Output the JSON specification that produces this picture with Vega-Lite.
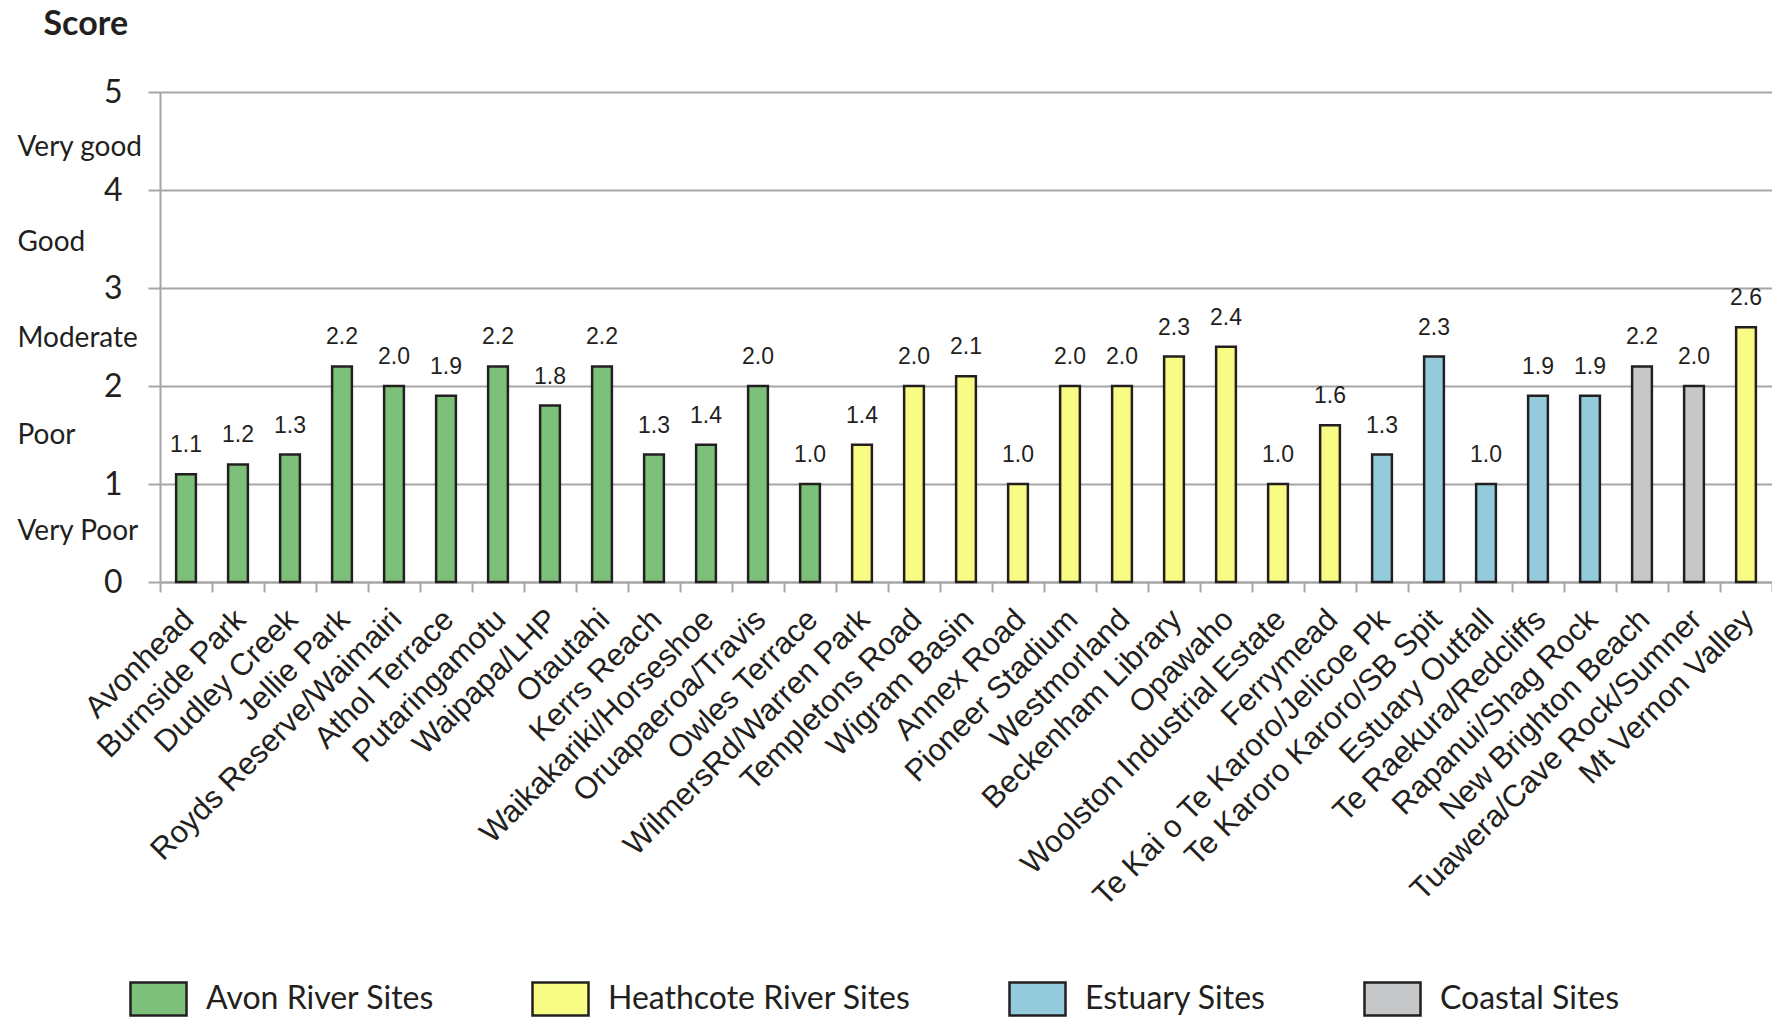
{
  "$schema": "https://vega.github.io/schema/vega-lite/v6.json",
  "width": 1612,
  "height": 490,
  "autosize": {"type": "none"},
  "padding": {"left": 160, "top": 92, "right": 0, "bottom": 435},
  "background": "white",
  "config": {"view": {"stroke": null}},
  "data": {
    "values": [
      {"site": "Avonhead", "score": 1.1, "group": "Avon River Sites"},
      {"site": "Burnside Park", "score": 1.2, "group": "Avon River Sites"},
      {"site": "Dudley Creek", "score": 1.3, "group": "Avon River Sites"},
      {"site": "Jellie Park", "score": 2.2, "group": "Avon River Sites"},
      {"site": "Royds Reserve/Waimairi", "score": 2.0, "group": "Avon River Sites"},
      {"site": "Athol Terrace", "score": 1.9, "group": "Avon River Sites"},
      {"site": "Putaringamotu", "score": 2.2, "group": "Avon River Sites"},
      {"site": "Waipapa/LHP", "score": 1.8, "group": "Avon River Sites"},
      {"site": "Otautahi", "score": 2.2, "group": "Avon River Sites"},
      {"site": "Kerrs Reach", "score": 1.3, "group": "Avon River Sites"},
      {"site": "Waikakariki/Horseshoe", "score": 1.4, "group": "Avon River Sites"},
      {"site": "Oruapaeroa/Travis", "score": 2.0, "group": "Avon River Sites"},
      {"site": "Owles Terrace", "score": 1.0, "group": "Avon River Sites"},
      {"site": "WilmersRd/Warren Park", "score": 1.4, "group": "Heathcote River Sites"},
      {"site": "Templetons Road", "score": 2.0, "group": "Heathcote River Sites"},
      {"site": "Wigram Basin", "score": 2.1, "group": "Heathcote River Sites"},
      {"site": "Annex Road", "score": 1.0, "group": "Heathcote River Sites"},
      {"site": "Pioneer Stadium", "score": 2.0, "group": "Heathcote River Sites"},
      {"site": "Westmorland", "score": 2.0, "group": "Heathcote River Sites"},
      {"site": "Beckenham Library", "score": 2.3, "group": "Heathcote River Sites"},
      {"site": "Opawaho", "score": 2.4, "group": "Heathcote River Sites"},
      {"site": "Woolston Industrial Estate", "score": 1.0, "group": "Heathcote River Sites"},
      {"site": "Ferrymead", "score": 1.6, "group": "Heathcote River Sites"},
      {"site": "Te Kai o Te Karoro/Jelicoe Pk", "score": 1.3, "group": "Estuary Sites"},
      {"site": "Te Karoro Karoro/SB Spit", "score": 2.3, "group": "Estuary Sites"},
      {"site": "Estuary Outfall", "score": 1.0, "group": "Estuary Sites"},
      {"site": "Te Raekura/Redcliffs", "score": 1.9, "group": "Estuary Sites"},
      {"site": "Rapanui/Shag Rock", "score": 1.9, "group": "Estuary Sites"},
      {"site": "New Brighton Beach", "score": 2.2, "group": "Coastal Sites"},
      {"site": "Tuawera/Cave Rock/Sumner", "score": 2.0, "group": "Coastal Sites"},
      {"site": "Mt Vernon Valley", "score": 2.6, "group": "Heathcote River Sites"}
    ]
  },
  "encoding": {
    "x": {
      "field": "site",
      "type": "nominal",
      "sort": null,
      "scale": {"paddingInner": 0, "paddingOuter": 0},
      "axis": {
        "title": null,
        "labelAngle": -45,
        "labelAlign": "right",
        "labelBaseline": "top",
        "labelFont": "Liberation Sans",
        "labelFontSize": 31,
        "labelColor": "#231f20",
        "labelPadding": 12,
        "labelOffset": -8,
        "labelLimit": 1000,
        "labelOverlap": false,
        "labelBound": false,
        "tickBand": "extent",
        "tickSize": 10,
        "tickColor": "#a6a6a6",
        "tickWidth": 2,
        "domainColor": "#a6a6a6",
        "domainWidth": 2,
        "grid": false
      }
    },
    "y": {
      "field": "score",
      "type": "quantitative",
      "scale": {"domain": [0, 5], "nice": false},
      "axis": {
        "title": "Score",
        "titleAngle": 0,
        "titleAlign": "left",
        "titleBaseline": "alphabetic",
        "titleX": -117,
        "titleY": -58,
        "titleFont": "Lato",
        "titleFontWeight": "bold",
        "titleFontSize": 34,
        "titleColor": "#231f20",
        "values": [0, 0.52, 1, 1.5, 2, 2.48, 3, 3.46, 4, 4.43, 5],
        "labelExpr": "datum.value % 1 === 0 ? format(datum.value, 'd') : datum.value < 1 ? 'Very Poor' : datum.value < 2 ? 'Poor' : datum.value < 3 ? 'Moderate' : datum.value < 4 ? 'Good' : 'Very good'",
        "labelFont": "Lato",
        "labelColor": "#231f20",
        "labelBaseline": "middle",
        "labelFontSize": {"condition": {"test": "datum.value % 1 === 0", "value": 32}, "value": 28},
        "labelAlign": {"condition": {"test": "datum.value % 1 === 0", "value": "right"}, "value": "left"},
        "labelPadding": {"condition": {"test": "datum.value % 1 === 0", "value": 26}, "value": 131},
        "labelOverlap": false,
        "labelBound": false,
        "labelFlush": false,
        "labelLimit": 500,
        "grid": true,
        "gridColor": "#a6a6a6",
        "gridWidth": 2,
        "gridOpacity": {"condition": {"test": "datum.value % 1 === 0", "value": 1}, "value": 0},
        "tickSize": 12,
        "tickColor": "#a6a6a6",
        "tickWidth": 2,
        "tickOpacity": {"condition": {"test": "datum.value % 1 === 0", "value": 1}, "value": 0},
        "domainColor": "#a6a6a6",
        "domainWidth": 2
      }
    }
  },
  "layer": [
    {
      "mark": {"type": "bar", "width": {"band": 0.38}, "stroke": "#231f20", "strokeWidth": 2.5},
      "encoding": {
        "fill": {
          "field": "group",
          "type": "nominal",
          "scale": {
            "domain": ["Avon River Sites", "Heathcote River Sites", "Estuary Sites", "Coastal Sites"],
            "range": ["#7dc07a", "#f8fb84", "#94cbdc", "#c6c7c9"]
          },
          "legend": {
            "title": null,
            "orient": "none",
            "direction": "horizontal",
            "legendX": -31,
            "legendY": 877,
            "padding": 0,
            "symbolType": "M-1,-0.59H1V0.59H-1Z",
            "symbolSize": 3136,
            "symbolStrokeColor": "#231f20",
            "symbolStrokeWidth": 2.5,
            "symbolOpacity": 1,
            "labelFont": "Lato",
            "labelFontSize": 32,
            "labelColor": "#231f20",
            "labelOffset": 18,
            "labelLimit": 1000,
            "columnPadding": 93
          }
        }
      }
    },
    {
      "mark": {"type": "text", "baseline": "alphabetic", "dy": -22, "font": "Liberation Sans", "fontSize": 23, "fill": "#231f20"},
      "encoding": {
        "text": {"field": "score", "type": "quantitative", "format": ".1f"}
      }
    }
  ]
}
